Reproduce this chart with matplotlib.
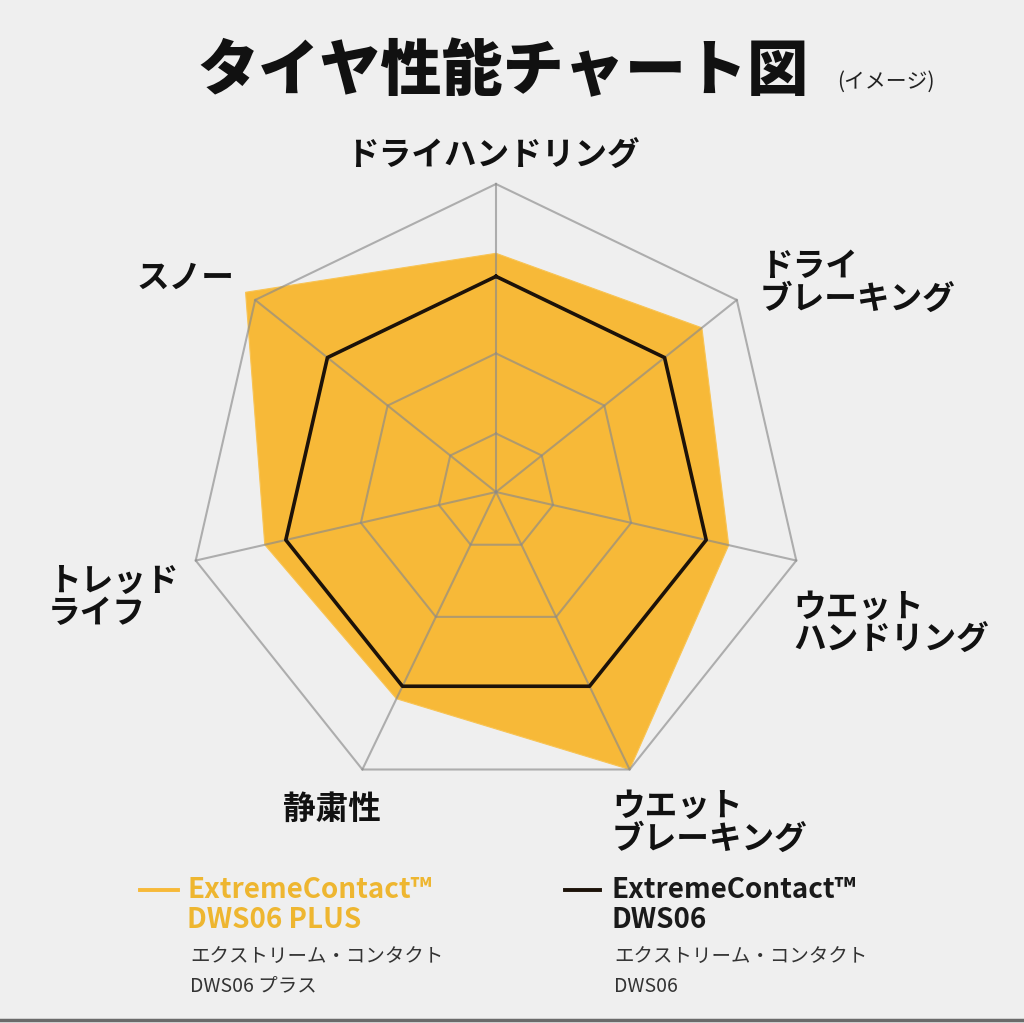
#!/usr/bin/env python3
# -*- coding: utf-8 -*-
"""タイヤ性能チャート図 (レーダーチャート) の再現"""

import numpy as np
import matplotlib
matplotlib.use('Agg')
import matplotlib.pyplot as plt
from matplotlib.lines import Line2D

plt.rcParams['font.family'] = ['Noto Sans CJK JP', 'DejaVu Sans']

# データ (時計回り, 上から)
categories = ['ドライハンドリング', 'ドライ\nブレーキング', 'ウエット\nハンドリング',
              'ウエット\nブレーキング', '静粛性', 'トレッド\nライフ', 'スノー']
dws06_plus = [7.75, 8.55, 7.75, 10.0, 7.45, 7.7, 10.4]
dws06 = [7.0, 7.0, 7.0, 7.0, 7.0, 7.0, 7.0]
grid_levels = [1.9, 4.5, 7.0, 10.0]
r_max = 11.0

series_names = ['ExtremeContact™\nDWS06 PLUS', 'ExtremeContact™\nDWS06']
series_jp = ['エクストリーム・コンタクト\nDWS06 プラス', 'エクストリーム・コンタクト\nDWS06']

# 色
BG = '#EFEFEF'
YELLOW = '#F7B938'
YELLOW_TEXT = '#EEB630'
BLACK = '#1C1209'
GRID = '#8A8A8A'

W, H = 1024, 1023


def px(x, y):
    """ピクセル座標 -> figure座標"""
    return x / W, 1 - y / H


fig = plt.figure(figsize=(W / 100, H / 100), dpi=100, facecolor=BG)

# 極座標軸 (中心 496,492 / r=10 で半径 308px)
cx, cy, rad10 = 496, 492, 308
half = rad10 * r_max / 10
ax = fig.add_axes([(cx - half) / W, (H - cy - half) / H, 2 * half / W, 2 * half / H],
                  projection='polar')
ax.set_theta_offset(np.pi / 2)
ax.set_theta_direction(-1)
ax.set_ylim(0, r_max)
ax.axis('off')

n = len(categories)
theta = np.arange(n) * 2 * np.pi / n
theta_c = np.append(theta, theta[0])

# 塗りつぶし (DWS06 PLUS)
ax.fill(theta_c, dws06_plus + dws06_plus[:1], color=YELLOW, lw=0.8,
        edgecolor='#F8C455', zorder=1)

# グリッド
for lvl in grid_levels:
    ax.plot(theta_c, [lvl] * (n + 1), color=GRID, alpha=0.65, lw=1.5, zorder=2)
for t in theta:
    ax.plot([t, t], [0, grid_levels[-1]], color=GRID, alpha=0.65, lw=1.5, zorder=2)

# DWS06
ax.plot(theta_c, dws06 + dws06[:1], color=BLACK, lw=2.6, zorder=3)

# タイトル
fig.text(*px(503, 72), 'タイヤ性能チャート図', ha='center', va='center',
         fontsize=44, fontweight='black', color='#111111')
fig.text(*px(837, 82), '(イメージ)', ha='left', va='center',
         fontsize=15, color='#222222')

# 軸ラベル (左端 x, 1行目中心 y, 揃え)
label_pos = [(493, 156, 'center'), (760, 266, 'left'), (793, 607, 'left'),
             (612, 806, 'left'), (283, 809, 'left'), (48, 581, 'left'),
             (137, 278, 'left')]
for name, (lx, ly, ha) in zip(categories, label_pos):
    for i, line in enumerate(name.split('\n')):
        fig.text(*px(lx, ly + i * 33), line, ha=ha, va='center',
                 fontsize=23.5, fontweight='bold', color='#111111')

# 凡例
legend_x = [(140, 178, 187), (565, 600, 611)]
legend_colors = [YELLOW, BLACK]
legend_text_colors = [YELLOW_TEXT, '#1A1A1A']
for (x0, x1, tx), col, tcol, name, jp in zip(legend_x, legend_colors,
                                           legend_text_colors, series_names, series_jp):
    fig.add_artist(Line2D([x0 / W, x1 / W], [1 - 890 / H] * 2, color=col, lw=2.8))
    for i, line in enumerate(name.split('\n')):
        fig.text(*px(tx, 890 + i * 30), line, ha='left', va='center',
                 fontsize=20, fontweight='bold', color=tcol)
    for i, line in enumerate(jp.split('\n')):
        fig.text(*px(tx + 3, 956 + i * 30), line, ha='left', va='center',
                 fontsize=14, color='#333333')

# 下端の線
fig.add_artist(Line2D([0, 1], [1 - 1020 / H] * 2, color='#6A6A6A', lw=2.5))

fig.savefig('out.png', dpi=100, facecolor=BG)
